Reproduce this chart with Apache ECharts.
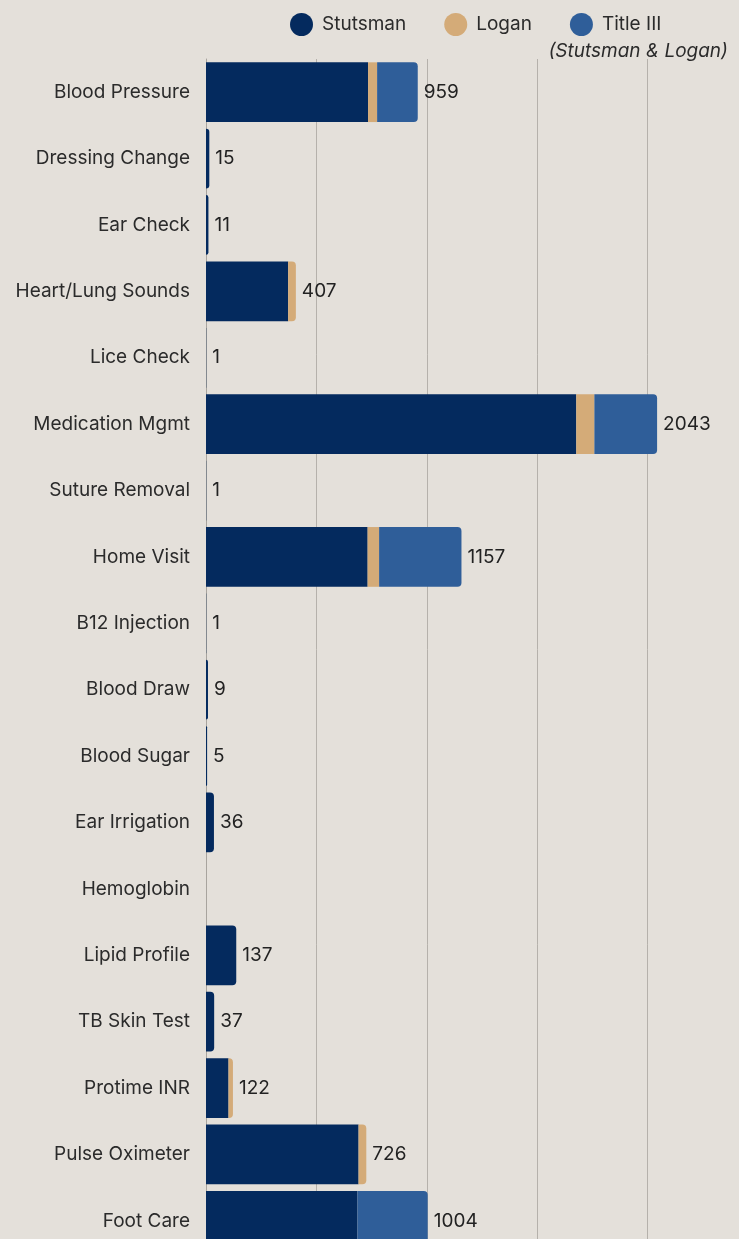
<!DOCTYPE html>
<html>
<head>
<meta charset="utf-8">
<script src="https://cdn.jsdelivr.net/npm/echarts@6/dist/echarts.min.js"></script>
<style>
  html, body { margin: 0; padding: 0; background: #e4e0da; }
  #main { width: 739px; height: 1239px; }
</style>
</head>
<body>
<div id="main"></div>
<script>
// categories top to bottom
const categories = [
  'Blood Pressure', 'Dressing Change', 'Ear Check', 'Heart/Lung Sounds', 'Lice Check',
  'Medication Mgmt', 'Suture Removal', 'Home Visit', 'B12 Injection', 'Blood Draw',
  'Blood Sugar', 'Ear Irrigation', 'Hemoglobin', 'Lipid Profile', 'TB Skin Test',
  'Protime INR', 'Pulse Oximeter', 'Foot Care'
];

// segment values (totals = the printed labels)
const stutsman = [734, 15, 11, 372, 1, 1677, 1, 732, 1, 9, 5, 36, 0, 137, 37, 102, 691, 686];
const logan    = [41, 0, 0, 35, 0, 82, 0, 52, 0, 0, 0, 0, 0, 0, 0, 20, 35, 0];
const titleIII = [184, 0, 0, 0, 0, 284, 0, 373, 0, 0, 0, 0, 0, 0, 0, 0, 0, 318];

const xTicks = [0, 500, 1000, 1500, 2000, 2500];

const colors = { stutsman: '#042a5e', logan: '#d4ab78', title: '#2f5e99' };

const segs = [stutsman, logan, titleIII];
const totals = categories.map((c, i) => stutsman[i] + logan[i] + titleIII[i]);

// round only the outermost visible segment
function withRadius(arr, k) {
  return arr.map((v, i) => {
    let last = -1;
    segs.forEach((s, j) => { if (s[i] > 0) last = j; });
    if (last === k) return { value: v, itemStyle: { borderRadius: [0, 4, 4, 0] } };
    return v;
  });
}

const chart = echarts.init(document.getElementById('main'));

const font = 'Inter, "Noto Sans", sans-serif';

const barBase = {
  type: 'bar',
  stack: 'total',
  barCategoryGap: '10%',
  barGap: '-100%'
};

chart.setOption({
  backgroundColor: '#e4e0da',
  animation: false,
  legend: {
    data: ['Stutsman', 'Logan', 'Title III'],
    left: 285,
    top: 8,
    icon: 'circle',
    itemWidth: 23,
    itemHeight: 23,
    itemGap: 38,
    textStyle: { fontFamily: font, fontSize: 19, color: '#2b2b2b', padding: [0, 0, 0, 4] }
  },
  graphic: [{
    type: 'text',
    right: 11,
    top: 42,
    style: {
      text: '(Stutsman & Logan)',
      font: 'italic 19px ' + font,
      fill: '#2b2b2b'
    }
  }],
  // the plot runs past the picture: 2500 and the last band's bottom are off-canvas
  grid: { left: 206, width: 552, top: 59, height: 1195, outerBoundsMode: 'none' },
  xAxis: {
    type: 'value',
    min: xTicks[0],
    max: xTicks[xTicks.length - 1],
    interval: 500,
    axisLabel: { show: false },
    axisLine: { show: false },
    axisTick: { show: false },
    splitLine: { lineStyle: { color: '#b5b1ab', width: 1 } }
  },
  yAxis: {
    type: 'category',
    inverse: true,
    data: categories,
    axisTick: { show: false },
    axisLine: { lineStyle: { color: '#a8a49e', width: 1 } },
    axisLabel: { margin: 16, fontFamily: font, fontSize: 19, color: '#2b2b2b' }
  },
  series: [
    Object.assign({}, barBase, {
      name: 'Stutsman',
      itemStyle: { color: colors.stutsman },
      data: withRadius(stutsman, 0)
    }),
    Object.assign({}, barBase, {
      name: 'Logan',
      itemStyle: { color: colors.logan },
      data: withRadius(logan, 1)
    }),
    Object.assign({}, barBase, {
      name: 'Title III',
      itemStyle: { color: colors.title },
      data: withRadius(titleIII, 2)
    }),
    {
      type: 'bar',
      name: 'total',
      barCategoryGap: '10%',
      barGap: '-100%',
      z: 1,
      itemStyle: { color: 'rgba(0,0,0,0)' },
      silent: true,
      data: totals,
      label: {
        show: true,
        position: 'right',
        distance: 6,
        fontFamily: font,
        fontSize: 19,
        color: '#222',
        formatter: p => (p.value > 0 ? p.value : '')
      }
    }
  ]
});
</script>
</body>
</html>
